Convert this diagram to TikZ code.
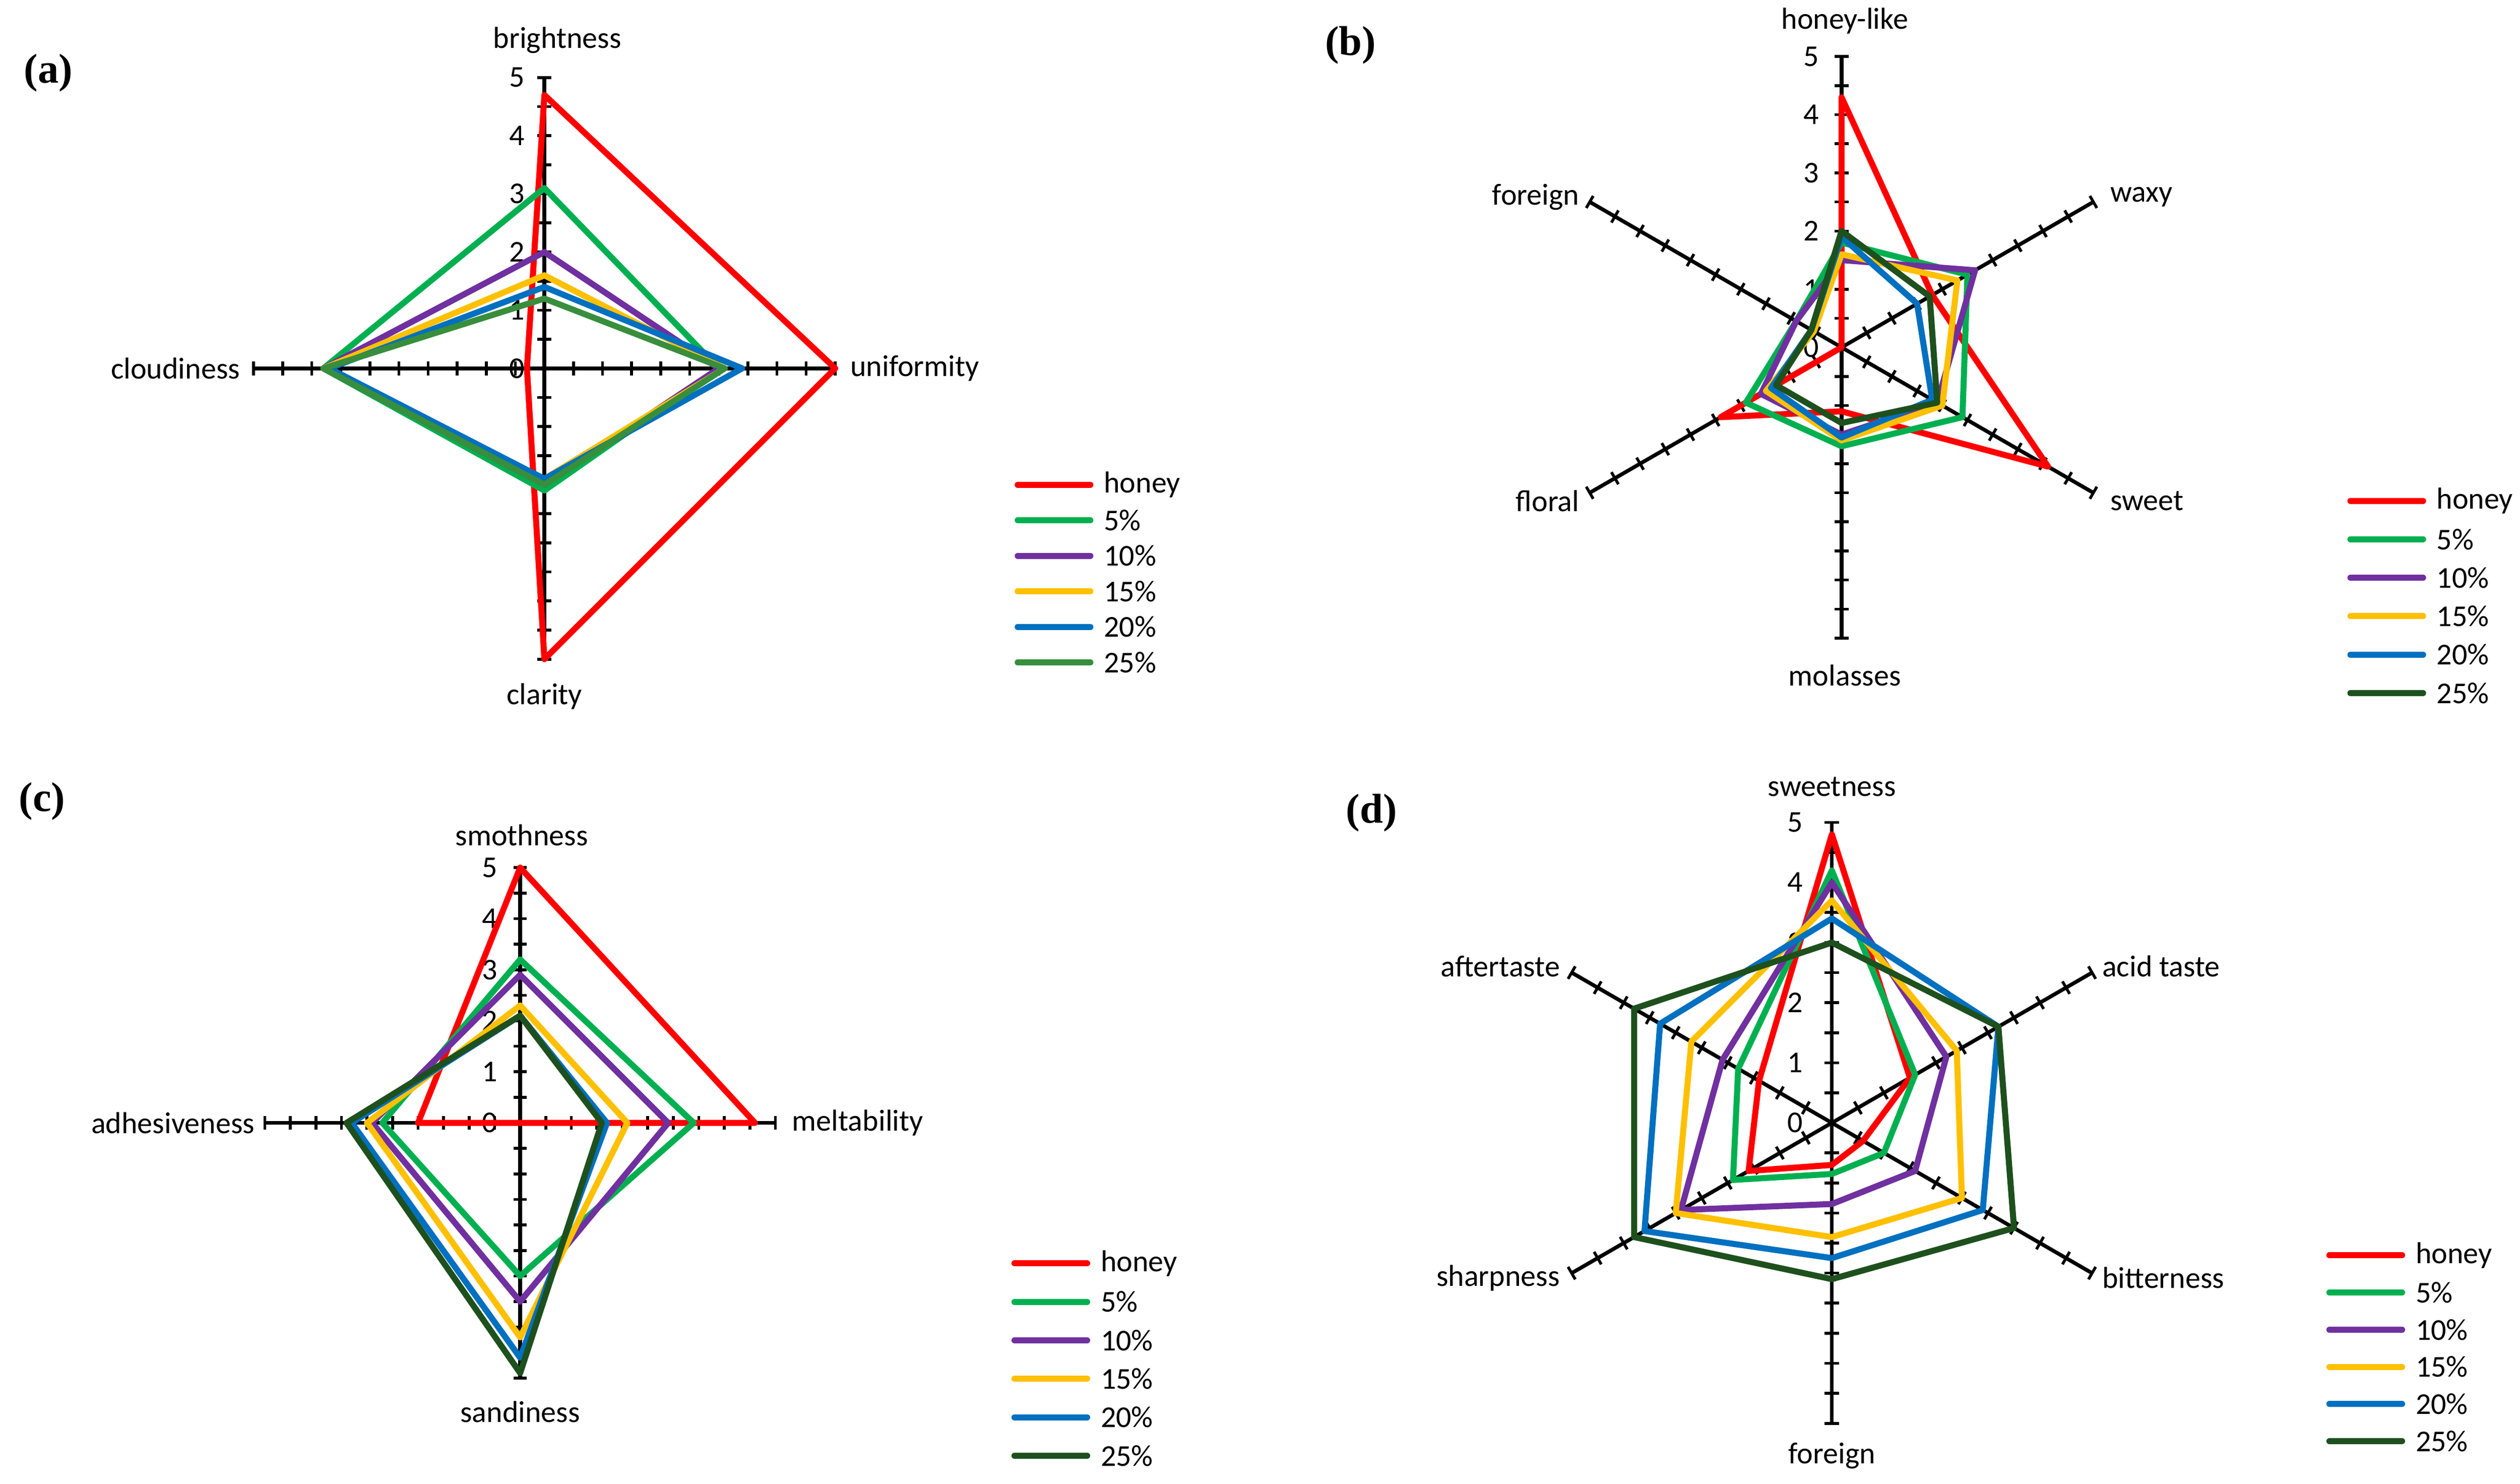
\documentclass[tikz,border=0pt]{standalone}
\usepackage{fontspec}
\setmainfont{Carlito}
\newfontfamily\panelfont{Liberation Serif}
\definecolor{c_honey}{RGB}{255,0,0}
\definecolor{c_five}{RGB}{0,176,80}
\definecolor{c_ten}{RGB}{112,48,160}
\definecolor{c_fifteen}{RGB}{255,192,0}
\definecolor{c_twenty}{RGB}{0,112,192}
\definecolor{c_twentyfive}{RGB}{56,142,60}
\definecolor{c_twentyfive_dk}{RGB}{30,80,30}

\begin{document}
\begin{tikzpicture}[x=0.03cm,y=-0.03cm,line join=round]
    \tikzstyle{axis}=[black, line width=2pt]
    \tikzstyle{tick}=[black, line width=1.5pt]
    \tikzstyle{series}=[line width=3.2pt]
    \tikzstyle{lbl}=[font=\fontsize{16}{18}\selectfont, inner sep=1pt]
    \tikzstyle{num}=[font=\fontsize{16}{18}\selectfont, inner sep=1pt, anchor=east]
    \tikzstyle{panel}=[font=\panelfont\bfseries\fontsize{22}{25}\selectfont, inner sep=0pt]
    \tikzstyle{key}=[line width=3.2pt, line cap=round]

    \useasboundingbox (0,0) rectangle (1560,918.5);

    % panel (a)
    \node[panel] (pa) at (30,45) {(a)};
    \begin{scope}[shift={(337,228)}, scale=36, yscale=-1]
      \foreach \a in {90,0,-90,180} {
        \draw[axis] (0,0) -- (\a:5);
        \foreach \r in {0.5,1,...,5} \draw[tick,rotate=\a] (\r,-0.12) -- (\r,0.12);
      }
      \foreach \n in {0,...,5} \node[num] (na\n) at (-0.3,\n) {\n};
      \draw[series,c_honey] (90:4.7) -- (0:5) -- (-90:5) -- (180:0.3) -- cycle;
      \draw[series,c_five] (90:3.1) -- (0:3.0) -- (-90:2.1) -- (180:3.8) -- cycle;
      \draw[series,c_ten] (90:2.0) -- (0:3.0) -- (-90:2.0) -- (180:3.8) -- cycle;
      \draw[series,c_fifteen] (90:1.6) -- (0:3.1) -- (-90:1.9) -- (180:3.8) -- cycle;
      \draw[series,c_twenty] (90:1.4) -- (0:3.4) -- (-90:1.9) -- (180:3.7) -- cycle;
      \draw[series,c_twentyfive] (90:1.2) -- (0:3.1) -- (-90:2.0) -- (180:3.8) -- cycle;
    \end{scope}
    \node[lbl] (a1) at (345,25) {brightness};
    \node[lbl,anchor=west] (a2) at (525,228) {uniformity};
    \node[lbl] (a3) at (337,431) {clarity};
    \node[lbl,anchor=east] (a4) at (150,228) {cloudiness};

    % panel (b)
    \node[panel] (pb) at (836,28) {(b)};
    \begin{scope}[shift={(1140,215)}, scale=36, yscale=-1]
      \foreach \a in {90,30,-30,-90,210,150} {
        \draw[axis] (0,0) -- (\a:5);
        \foreach \r in {0.5,1,...,5} \draw[tick,rotate=\a] (\r,-0.12) -- (\r,0.12);
      }
      \foreach \n in {0,...,5} \node[num] (nb\n) at (-0.35,\n) {\n};
      \draw[series,c_honey] (90:4.3) -- (30:1.8) -- (-30:4.1) -- (-90:1.1) -- (210:2.4) -- (150:0) -- cycle;
      \draw[series,c_five] (90:1.8) -- (30:2.5) -- (-30:2.4) -- (-90:1.7) -- (210:1.9) -- (150:0.9) -- cycle;
      \draw[series,c_ten] (90:1.5) -- (30:2.65) -- (-30:1.9) -- (-90:1.5) -- (210:1.6) -- (150:0.9) -- cycle;
      \draw[series,c_fifteen] (90:1.6) -- (30:2.3) -- (-30:2.0) -- (-90:1.6) -- (210:1.5) -- (150:0.55) -- cycle;
      \draw[series,c_twenty] (90:1.9) -- (30:1.5) -- (-30:1.8) -- (-90:1.55) -- (210:1.4) -- (150:0.6) -- cycle;
      \draw[series,c_twentyfive_dk] (90:2.0) -- (30:1.75) -- (-30:1.9) -- (-90:1.3) -- (210:1.3) -- (150:0.6) -- cycle;
    \end{scope}
    \node[lbl] (b1) at (1142,13) {honey-like};
    \node[lbl,anchor=west] (b2) at (1305,122) {waxy};
    \node[lbl,anchor=west] (b3) at (1305,310) {sweet};
    \node[lbl] (b4) at (1142,418) {molasses};
    \node[lbl,anchor=east] (b5) at (979,310) {floral};
    \node[lbl,anchor=east] (b6) at (979,122) {foreign};

    % panel (c)
    \node[panel] (pc) at (26,496) {(c)};
    \begin{scope}[shift={(322,695)}, scale=31.6, yscale=-1]
      \foreach \a in {90,0,-90,180} {
        \draw[axis] (0,0) -- (\a:5);
        \foreach \r in {0.5,1,...,5} \draw[tick,rotate=\a] (\r,-0.13) -- (\r,0.13);
      }
      \foreach \n in {0,...,5} \node[num] (nc\n) at (-0.4,\n) {\n};
      \draw[series,c_honey] (90:5) -- (0:4.6) -- (-90:0) -- (180:2.0) -- cycle;
      \draw[series,c_five] (90:3.2) -- (0:3.4) -- (-90:3.0) -- (180:2.7) -- cycle;
      \draw[series,c_ten] (90:2.9) -- (0:2.9) -- (-90:3.5) -- (180:2.9) -- cycle;
      \draw[series,c_fifteen] (90:2.3) -- (0:2.1) -- (-90:4.2) -- (180:3.0) -- cycle;
      \draw[series,c_twenty] (90:2.1) -- (0:1.7) -- (-90:4.6) -- (180:3.3) -- cycle;
      \draw[series,c_twentyfive_dk] (90:2.1) -- (0:1.6) -- (-90:4.9) -- (180:3.4) -- cycle;
    \end{scope}
    \node[lbl] (c1) at (323,517) {smothness};
    \node[lbl,anchor=west] (c2) at (489,695) {meltability};
    \node[lbl] (c3) at (322,874) {sandiness};
    \node[lbl,anchor=east] (c4) at (159,695) {adhesiveness};

    % panel (d)
    \node[panel] (pd) at (849,503) {(d)};
    \begin{scope}[shift={(1134,695)}, scale=37.2, yscale=-1]
      \foreach \a in {90,30,-30,-90,210,150} {
        \draw[axis] (0,0) -- (\a:5);
        \foreach \r in {0.5,1,...,5} \draw[tick,rotate=\a] (\r,-0.12) -- (\r,0.12);
      }
      \foreach \n in {0,...,5} \node[num] (nd\n) at (-0.45,\n) {\n};
      \draw[series,c_honey] (90:4.8) -- (30:1.5) -- (-30:0.6) -- (-90:0.7) -- (210:1.6) -- (150:1.4) -- cycle;
      \draw[series,c_five] (90:4.2) -- (30:1.6) -- (-30:1.0) -- (-90:0.85) -- (210:1.9) -- (150:1.8) -- cycle;
      \draw[series,c_ten] (90:4.0) -- (30:2.2) -- (-30:1.6) -- (-90:1.35) -- (210:2.9) -- (150:2.1) -- cycle;
      \draw[series,c_fifteen] (90:3.7) -- (30:2.4) -- (-30:2.5) -- (-90:1.9) -- (210:3.0) -- (150:2.7) -- cycle;
      \draw[series,c_twenty] (90:3.4) -- (30:3.2) -- (-30:2.9) -- (-90:2.25) -- (210:3.6) -- (150:3.3) -- cycle;
      \draw[series,c_twentyfive_dk] (90:3.0) -- (30:3.2) -- (-30:3.5) -- (-90:2.6) -- (210:3.8) -- (150:3.8) -- cycle;
    \end{scope}
    \node[lbl] (d1) at (1134,487) {sweetness};
    \node[lbl,anchor=west] (d2) at (1300,598) {acid taste};
    \node[lbl,anchor=west] (d3) at (1300,791) {bitterness};
    \node[lbl] (d4) at (1134,901) {foreign};
    \node[lbl,anchor=east] (d5) at (967,791) {sharpness};
    \node[lbl,anchor=east] (d6) at (967,598) {aftertaste};

    % legends
    \foreach \lx/\ly/\dy/\last in {630/300/22/c_twentyfive, 1455/310/23.8/c_twentyfive_dk, 628/782/23.8/c_twentyfive_dk, 1442/777/23/c_twentyfive_dk} {
      \foreach \col/\txt [count=\i from 0] in {c_honey/honey, c_five/5\%, c_ten/10\%, c_fifteen/15\%, c_twenty/20\%, \last/25\%} {
        \draw[key,\col] (\lx,\ly+\i*\dy) -- (\lx+45,\ly+\i*\dy);
        \node[lbl,anchor=west] (k\lx-\i) at (\lx+52,\ly+\i*\dy) {\txt};
      }
    }
\end{tikzpicture}
\end{document}
